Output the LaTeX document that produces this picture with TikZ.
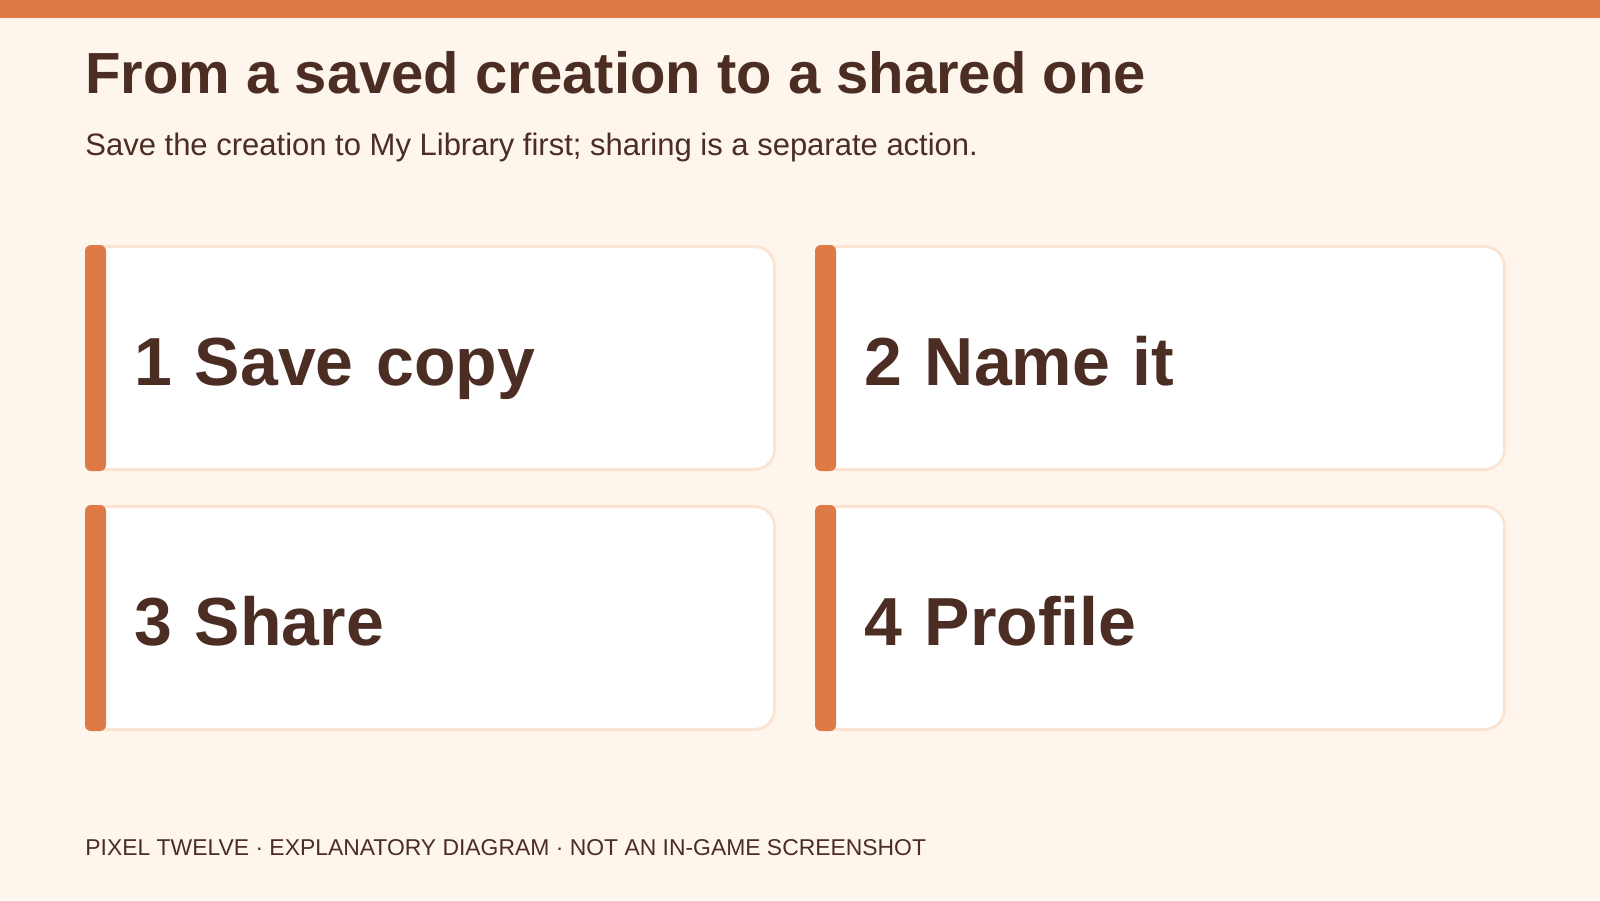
\documentclass[tikz,border=0pt]{standalone}
\usepackage{fontspec}
\setmainfont{Liberation Sans}
\usetikzlibrary{positioning}
\definecolor{paper}{HTML}{FEF6EC}
\definecolor{accent}{HTML}{DD7A45}
\definecolor{cardline}{HTML}{FBE4D2}
\definecolor{ink}{HTML}{4B2D24}
\begin{document}
\begin{tikzpicture}[x=0.5pt, y=-0.5pt, node distance=17pt and 19.5pt, every node/.style={text=ink}]
    \tikzstyle{card} = [rectangle, draw=cardline, line width=1.5pt, fill=white, rounded corners=10pt, text width=296pt, inner xsep=24pt, minimum height=111.5pt, text height=27.5pt, text depth=0pt, align=left, font=\fontsize{34}{40}\selectfont\bfseries]
    \tikzstyle{heading} = [anchor=base west, inner sep=0pt, font=\fontsize{29}{34}\selectfont\bfseries]
    \tikzstyle{subheading} = [anchor=base west, inner sep=0pt, font=\fontsize{15.5}{18}\selectfont]
    \tikzstyle{footnote} = [anchor=base west, inner sep=0pt, font=\fontsize{11.45}{13}\selectfont]
    % page and top band
    \fill[paper] (0,0) rectangle (1600,900);
    \useasboundingbox (0,0) rectangle (1600,900);
    \fill[accent] (0,0) rectangle (1600,18);

    \node (title) [heading] at (85,93) {From a saved creation to a shared one};
    \node (subtitle) [subheading] at (85,155) {Save the creation to My Library first; sharing is a separate action.};

    \node (save) [card, anchor=north west] at (85,245) {1 Save copy};
    \node (name) [card, right=of save] {2 Name it};
    \node (share) [card, below=of save] {3 Share};
    \node (profile) [card, right=of share] {4 Profile};

    % orange strip on the left edge of each card
    \foreach \c in {save, name, share, profile}
        \fill[accent, rounded corners=3pt] (\c.north west) rectangle ([xshift=10.5pt]\c.south west);

    \node (credit) [footnote] at (85,855) {PIXEL TWELVE · EXPLANATORY DIAGRAM · NOT AN IN-GAME SCREENSHOT};
\end{tikzpicture}
\end{document}
